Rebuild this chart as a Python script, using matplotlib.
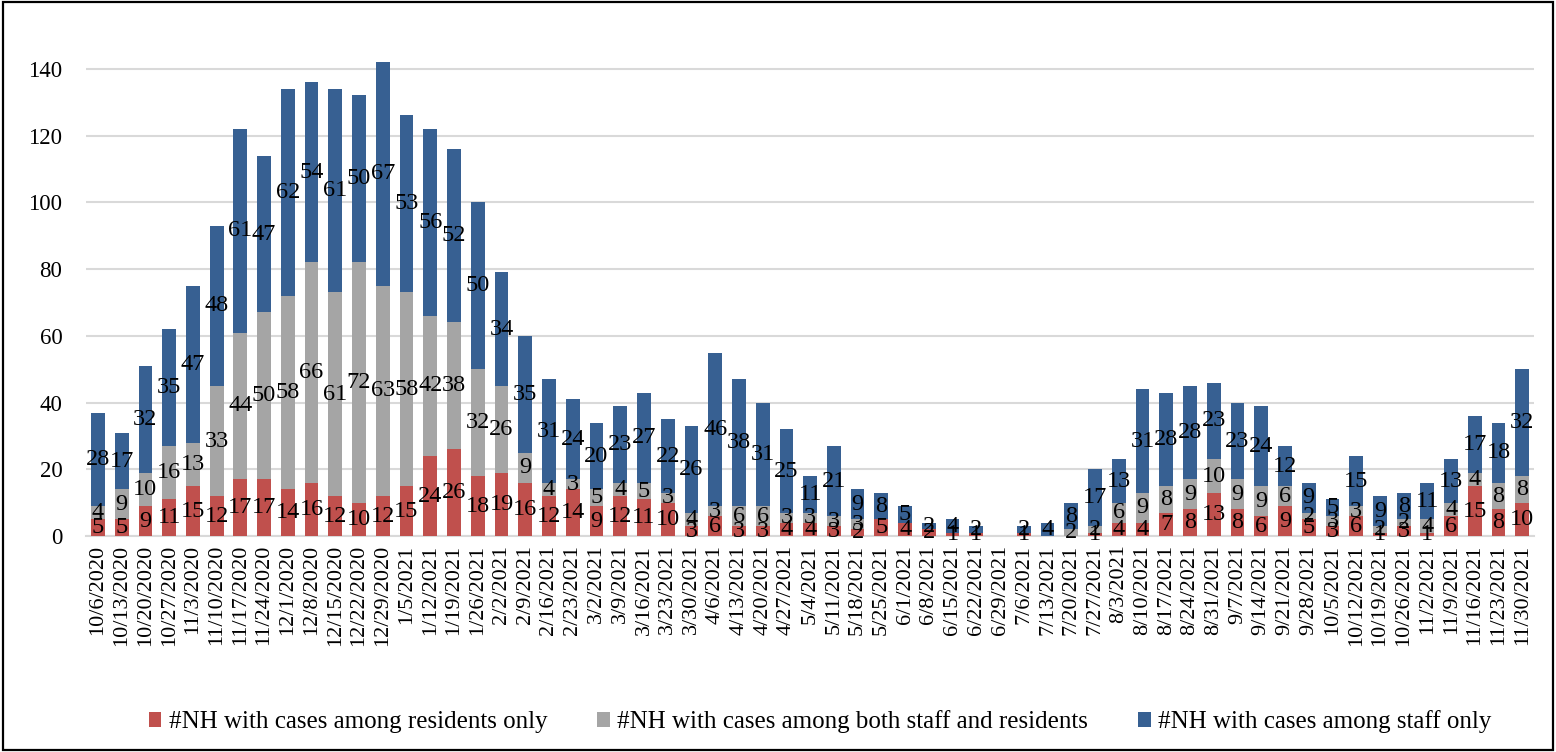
import matplotlib.pyplot as plt
import numpy as np
from matplotlib.patches import Rectangle

# weekly counts of nursing homes (NH) with cases
weeks = ["10/6/2020", "10/13/2020", "10/20/2020", "10/27/2020", "11/3/2020", "11/10/2020",
         "11/17/2020", "11/24/2020", "12/1/2020", "12/8/2020", "12/15/2020", "12/22/2020",
         "12/29/2020", "1/5/2021", "1/12/2021", "1/19/2021", "1/26/2021", "2/2/2021",
         "2/9/2021", "2/16/2021", "2/23/2021", "3/2/2021", "3/9/2021", "3/16/2021",
         "3/23/2021", "3/30/2021", "4/6/2021", "4/13/2021", "4/20/2021", "4/27/2021",
         "5/4/2021", "5/11/2021", "5/18/2021", "5/25/2021", "6/1/2021", "6/8/2021",
         "6/15/2021", "6/22/2021", "6/29/2021", "7/6/2021", "7/13/2021", "7/20/2021",
         "7/27/2021", "8/3/2021", "8/10/2021", "8/17/2021", "8/24/2021", "8/31/2021",
         "9/7/2021", "9/14/2021", "9/21/2021", "9/28/2021", "10/5/2021", "10/12/2021",
         "10/19/2021", "10/26/2021", "11/2/2021", "11/9/2021", "11/16/2021", "11/23/2021",
         "11/30/2021"]

residents_only = [5, 5, 9, 11, 15, 12, 17, 17, 14, 16, 12, 10, 12, 15, 24, 26, 18, 19,
                  16, 12, 14, 9, 12, 11, 10, 3, 6, 3, 3, 4, 4, 3, 2, 5, 4, 2, 1, 1, 0,
                  1, 0, 0, 1, 4, 4, 7, 8, 13, 8, 6, 9, 5, 3, 6, 1, 3, 1, 6, 15, 8, 10]
both = [4, 9, 10, 16, 13, 33, 44, 50, 58, 66, 61, 72, 63, 58, 42, 38, 32, 26,
        9, 4, 3, 5, 4, 5, 3, 4, 3, 6, 6, 3, 3, 3, 3, 0, 0, 0, 0, 0, 0,
        0, 0, 2, 2, 6, 9, 8, 9, 10, 9, 9, 6, 2, 3, 3, 2, 2, 4, 4, 4, 8, 8]
staff_only = [28, 17, 32, 35, 47, 48, 61, 47, 62, 54, 61, 50, 67, 53, 56, 52, 50, 34,
              35, 31, 24, 20, 23, 27, 22, 26, 46, 38, 31, 25, 11, 21, 9, 8, 5, 2, 4, 2, 0,
              2, 4, 8, 17, 13, 31, 28, 28, 23, 23, 24, 12, 9, 5, 15, 9, 8, 11, 13, 17, 18, 32]

series_names = ["#NH with cases among residents only",
                "#NH with cases among both staff and residents",
                "#NH with cases among staff only"]
colors = ["#C0504D", "#A5A5A5", "#376092"]

plt.rcParams['font.family'] = ['Liberation Serif', 'DejaVu Serif']

fig = plt.figure(figsize=(15.56, 7.52), dpi=100)
ax = fig.add_axes([0.0553, 0.287, 0.9307, 0.666])

x = np.arange(len(weeks))
bottom = np.zeros(len(weeks))
for vals, name, col in zip([residents_only, both, staff_only], series_names, colors):
    vals = np.array(vals)
    bars = ax.bar(x, vals, 0.58, bottom=bottom, color=col, label=name, zorder=3)
    labels = [str(v) if v > 0 else "" for v in vals]
    ax.bar_label(bars, labels=labels, label_type='center', fontsize=17.5, color='black', zorder=4)
    bottom = bottom + vals

ax.set_xlim(-0.5, len(weeks) - 0.5)
ax.set_ylim(0, 150)
ax.set_yticks(range(0, 141, 20))
ax.yaxis.grid(True, color='#D9D9D9', linewidth=1.5, zorder=0)
ax.set_axisbelow(True)
for s in ['top', 'right', 'left']:
    ax.spines[s].set_visible(False)
ax.spines['bottom'].set_color('#D9D9D9')
ax.spines['bottom'].set_linewidth(1.5)
ax.tick_params(axis='y', length=0, pad=17, labelsize=16.5)
ax.tick_params(axis='x', length=0, pad=6, labelsize=16)
ax.set_xticks(x)
ax.set_xticklabels(weeks, rotation=90)

fig.legend(loc='center', ncol=3, bbox_to_anchor=(0.527, 0.04), frameon=False,
           fontsize=18, handlelength=0.5, handleheight=0.5, handletextpad=0.3,
           columnspacing=2.0)

# chart border
fig.patches.append(Rectangle((0.002, 0.002), 0.996, 0.996, transform=fig.transFigure,
                             fill=False, edgecolor='black', linewidth=1.6))

fig.savefig("out.png", dpi=100)
